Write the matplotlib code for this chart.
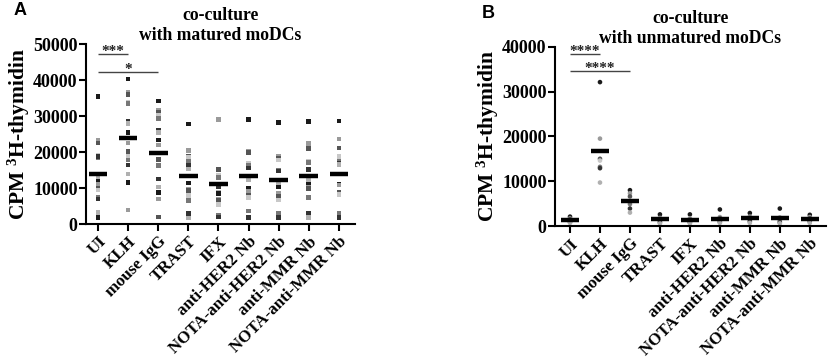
import matplotlib
matplotlib.use("Agg")
import matplotlib.pyplot as plt
import numpy as np

plt.rcParams["font.family"] = ["Liberation Serif", "DejaVu Serif"]
plt.rcParams["font.weight"] = "bold"
plt.rcParams["mathtext.fontset"] = "custom"
plt.rcParams["mathtext.bf"] = "Liberation Serif:bold"
plt.rcParams["mathtext.rm"] = "Liberation Serif:bold"

GROUPS = ["UI", "KLH", "mouse IgG", "TRAST", "IFX", "anti-HER2 Nb",
          "NOTA-anti-HER2 Nb", "anti-MMR Nb", "NOTA-anti-MMR Nb"]

# panel A: co-culture with matured moDCs (CPM values per donor/replicate)
matured = [
    [35500, 23200, 22500, 19200, 18500, 18800, 13000, 12000, 11000, 9800, 9500, 7500, 7000, 3200, 1800],
    [40300, 36700, 36000, 33800, 33500, 28500, 28000, 25500, 22500, 20100, 18700, 17800, 16400, 13900, 11600, 3900],
    [34200, 31500, 31000, 30300, 29300, 26000, 25500, 23300, 21900, 18000, 16400, 16200, 12500, 10300, 8800, 6900, 1900],
    [27800, 20500, 18700, 18400, 17300, 16200, 15300, 11400, 9700, 9300, 7900, 6500, 2900, 1700],
    [29200, 29000, 15200, 13600, 13000, 10500, 8900, 8500, 7000, 6600, 5400, 2300, 1900],
    [29000, 20300, 19800, 16800, 16400, 15600, 12400, 9800, 9000, 8000, 7300, 3600, 1800],
    [28200, 18800, 18200, 17800, 15000, 14700, 11300, 10300, 8500, 7800, 6700, 3000, 1800],
    [28500, 22400, 20900, 17400, 17100, 15200, 12400, 10900, 10100, 9800, 7500, 7400, 2900, 1800],
    [28600, 23600, 21100, 18800, 17300, 16900, 16600, 11100, 10800, 8700, 8200, 3000, 1800],
]
matured_mean = [14000, 23900, 19700, 13200, 11100, 13300, 12300, 13400, 13900]

# panel B: co-culture with unmatured moDCs
unmatured = [
    [2100, 1700, 1500, 1300, 1100, 900, 700],
    [32100, 19500, 15000, 14600, 13200, 12900, 9700],
    [8000, 7300, 6600, 5600, 4900, 3900, 3000],
    [2600, 1800, 1500, 1300, 1100, 800, 600],
    [2600, 1700, 1400, 1200, 1000, 800, 600],
    [3700, 2000, 1700, 1400, 1200, 900, 700],
    [2900, 2100, 1800, 1500, 1300, 1000, 700],
    [3900, 1900, 1600, 1300, 1100, 800, 600],
    [2500, 2000, 1700, 1500, 1300, 1000, 700],
]
unmatured_mean = [1400, 16800, 5500, 1600, 1300, 1500, 1700, 1700, 1500]

# significance brackets: (group a, group b, height, label)
sig_a = [(0, 1, 47200, "***"), (0, 2, 42300, "*")]
sig_b = [(0, 1, 38300, "****"), (0, 2, 34600, "****")]

SHADES = ["#1a1a1a", "#9a9a9a", "#555555", "#c8c8c8", "#777777", "#333333", "#b0b0b0"]


def draw_panel(ax, data, means, sigs, ymax, marker, title, letter):
    for i, vals in enumerate(data):
        cols = [SHADES[j % len(SHADES)] for j in range(len(vals))]
        ax.scatter(np.full(len(vals), i), vals, s=11, marker=marker, c=cols,
                   linewidths=0, zorder=2)
        ax.hlines(means[i], i - 0.31, i + 0.31, color="black", linewidth=3.2, zorder=3)
    for a, b, h, lab in sigs:
        ax.hlines(h, a, b, color="#444444", linewidth=1.0, clip_on=False)
        ax.text((a + b) / 2, h - ymax * 0.006, lab, ha="center", va="baseline",
                fontsize=11, color="#222222")
    ax.set_xlim(-0.4, 8.53)
    ax.set_ylim(0, ymax)
    ax.set_yticks(np.arange(0, ymax + 1, 10000))
    ax.set_xticks(range(len(GROUPS)))
    ax.set_xticklabels(GROUPS, rotation=45, ha="right", rotation_mode="anchor",
                       fontsize=12.2, fontweight="bold")
    ax.tick_params(axis="y", labelsize=13, width=1.5, length=5, pad=1)
    ax.tick_params(axis="x", width=1.5, length=5, pad=2)
    for s in ["top", "right"]:
        ax.spines[s].set_visible(False)
    for s in ["left", "bottom"]:
        ax.spines[s].set_linewidth(1.5)
    ax.set_ylabel("CPM $\\mathbf{^{3}}$H-thymidin", fontsize=15.5, fontweight="bold",
                  labelpad=1)
    ax.set_title(title, fontsize=12.7, fontweight="bold", pad=2)
    ax.text(-0.27, 1.16, letter, transform=ax.transAxes, fontsize=13,
            fontweight="bold", family="Liberation Sans")


fig = plt.figure(figsize=(8.29, 3.64), dpi=100)
ax1 = fig.add_axes([0.1037, 0.3846, 0.3243, 0.4945])
ax2 = fig.add_axes([0.6695, 0.379, 0.3265, 0.4927])

draw_panel(ax1, matured, matured_mean, sig_a, 50000, "s",
           "co-culture\nwith matured moDCs", "A")
draw_panel(ax2, unmatured, unmatured_mean, sig_b, 40000, "o",
           "co-culture\nwith unmatured moDCs", "B")
ax2.set_xlim(-0.5, 8.53)

fig.savefig("out.png", dpi=100)
